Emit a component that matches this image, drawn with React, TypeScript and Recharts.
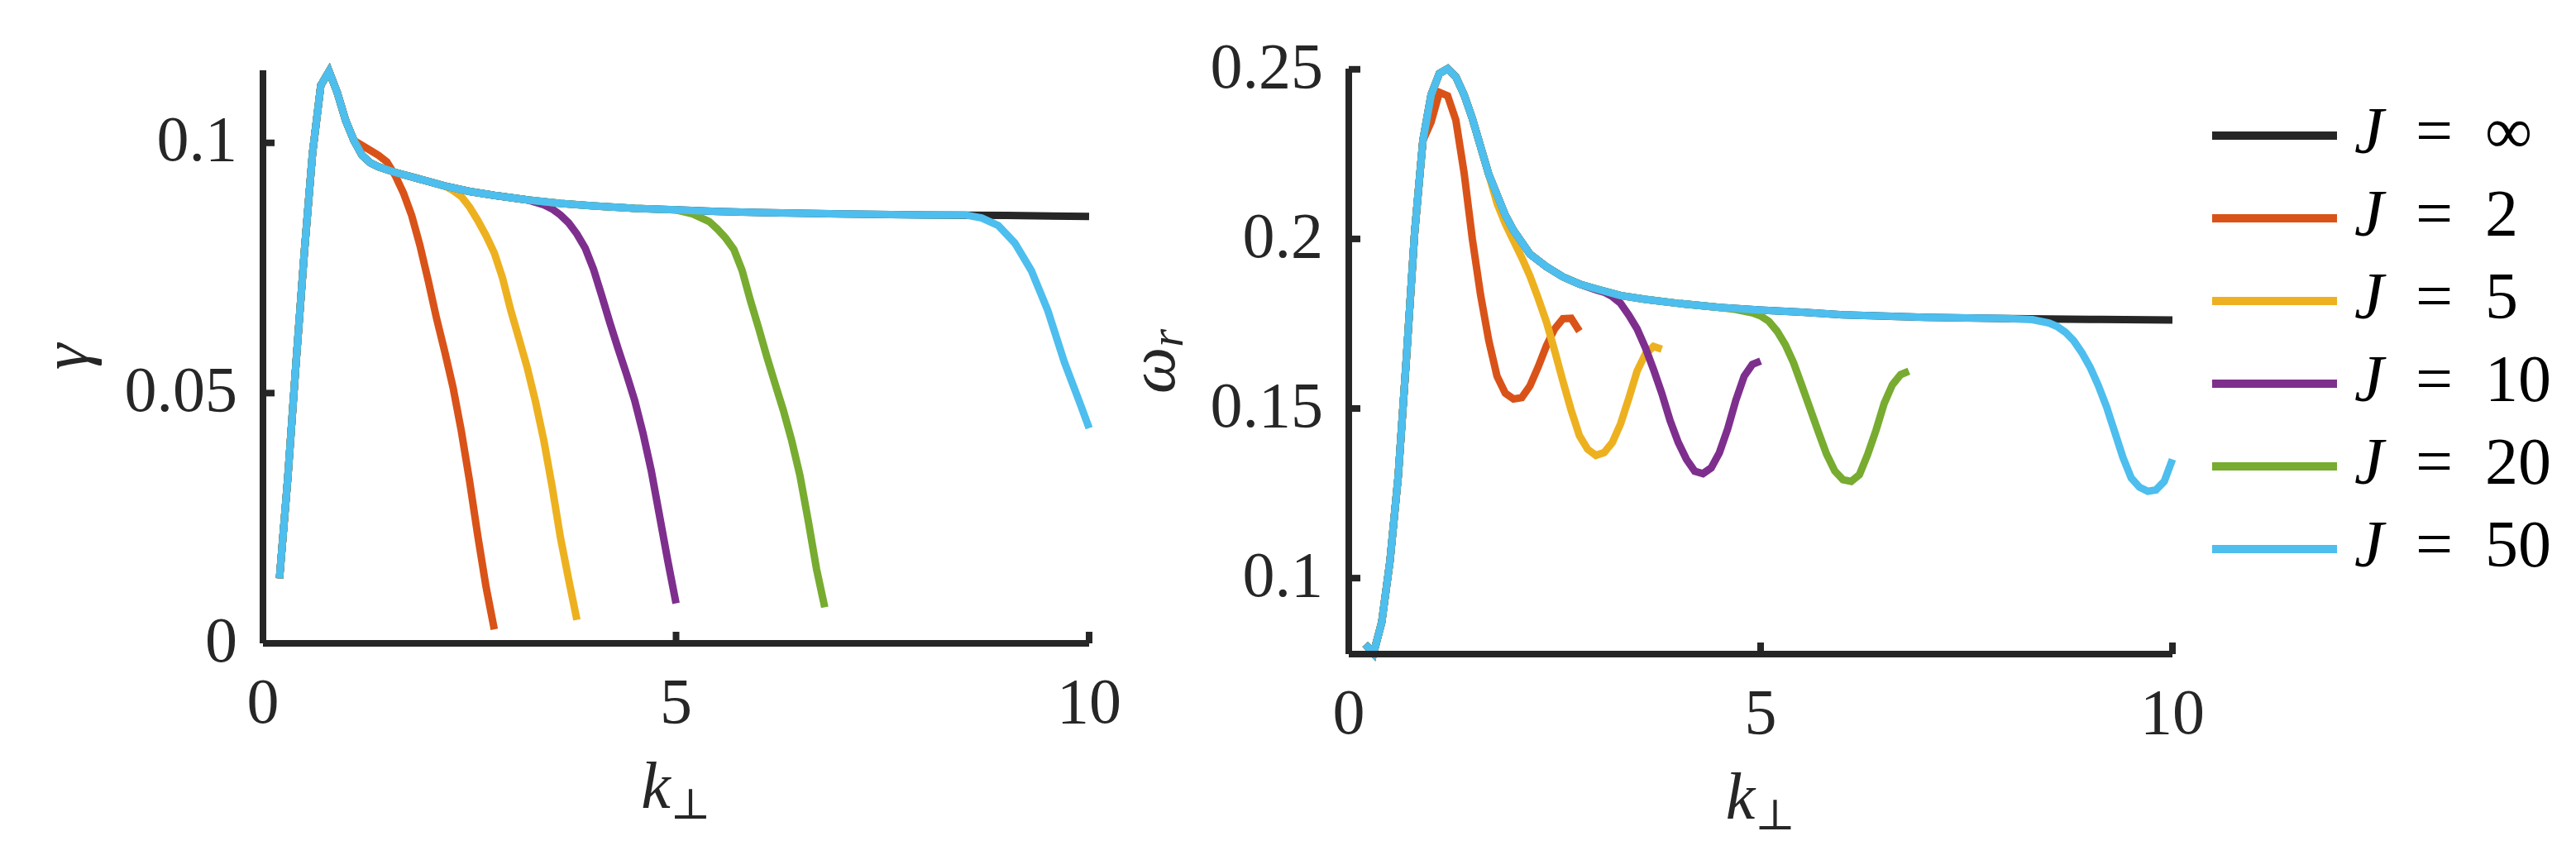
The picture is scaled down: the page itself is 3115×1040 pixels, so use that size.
import { LineChart, Line, XAxis, YAxis, Legend } from "recharts";

// ---- series labels / colours (MATLAB default order) ----
const jLabels = ["∞", "2", "5", "10", "20", "50"];
const jColors = ["#262626", "#D95319", "#EDB120", "#7E2F8E", "#77AC30", "#4DBEEE"];

// ---- growth rate gamma, J = infinity (shared by every J until it peels off) ----
const kGamma = [0.2, 0.3, 0.4, 0.5, 0.6, 0.7, 0.8, 0.9, 1.0, 1.1, 1.2, 1.3, 1.4, 1.6, 1.8, 2.0, 2.2, 2.5, 2.8, 3.2, 3.6, 4.0, 4.5, 5.0, 5.5, 6.0, 7.0, 8.0, 9.0, 10.0];
const gammaInf = [0.013, 0.033, 0.056, 0.078, 0.098, 0.1115, 0.1143, 0.110, 0.1045, 0.1005, 0.0975, 0.096, 0.0952, 0.0941, 0.0932, 0.0923, 0.0914, 0.0903, 0.0895, 0.0886, 0.0879, 0.0874, 0.0869, 0.0866, 0.0863, 0.0861, 0.0858, 0.0856, 0.0855, 0.0853];

// branch points (last shared k) for J = 2, 5, 10, 20, 50
const gammaCut = [1.1, 2.2, 3.2, 5.0, 8.0];

const kGamma2 = [1.2, 1.3, 1.4, 1.5, 1.6, 1.7, 1.8, 1.9, 2.0, 2.1, 2.2, 2.3, 2.4, 2.5, 2.6, 2.7, 2.8];
const gamma2 = [0.0995, 0.0985, 0.0975, 0.0962, 0.0935, 0.09, 0.0855, 0.0795, 0.0725, 0.065, 0.0583, 0.0512, 0.0425, 0.0325, 0.0215, 0.0113, 0.0028];

const kGamma5 = [2.3, 2.4, 2.5, 2.6, 2.7, 2.8, 2.9, 3.0, 3.1, 3.2, 3.3, 3.4, 3.5, 3.6, 3.7, 3.8];
const gamma5 = [0.0905, 0.0893, 0.0872, 0.0845, 0.0815, 0.078, 0.073, 0.0665, 0.0608, 0.055, 0.0482, 0.0405, 0.0313, 0.0212, 0.0128, 0.0047];

const kGamma10 = [3.4, 3.5, 3.6, 3.7, 3.8, 3.9, 4.0, 4.1, 4.2, 4.3, 4.4, 4.5, 4.6, 4.7, 4.8, 4.9, 5.0];
const gamma10 = [0.0876, 0.0868, 0.0856, 0.084, 0.0818, 0.079, 0.0748, 0.0695, 0.064, 0.0588, 0.0538, 0.0485, 0.042, 0.0345, 0.0255, 0.0165, 0.008];

const kGamma20 = [5.2, 5.4, 5.5, 5.6, 5.7, 5.8, 5.9, 6.0, 6.1, 6.2, 6.3, 6.4, 6.5, 6.6, 6.7, 6.8];
const gamma20 = [0.0858, 0.0843, 0.0828, 0.081, 0.0787, 0.0745, 0.0685, 0.063, 0.0572, 0.0518, 0.0465, 0.0405, 0.0335, 0.0245, 0.0149, 0.0072];

const kGamma50 = [8.5, 8.7, 8.9, 9.1, 9.3, 9.5, 9.7, 9.9, 10.0];
const gamma50 = [0.0856, 0.085, 0.0835, 0.08, 0.0745, 0.0665, 0.0562, 0.0475, 0.043];

// ---- real frequency omega_r, J = infinity ----
const kOmega = [0.2, 0.3, 0.4, 0.5, 0.6, 0.7, 0.8, 0.9, 1.0, 1.1, 1.2, 1.3, 1.4, 1.5, 1.6, 1.7, 1.8, 1.9, 2.0, 2.2, 2.4, 2.6, 2.8, 3.0, 3.3, 3.6, 4.0, 4.5, 5.0, 5.5, 6.0, 7.0, 8.0, 9.0, 10.0];
const omegaInf = [0.0805, 0.0778, 0.087, 0.105, 0.13, 0.165, 0.202, 0.229, 0.2425, 0.2488, 0.2502, 0.2478, 0.2425, 0.2355, 0.2272, 0.219, 0.213, 0.207, 0.2025, 0.1955, 0.1918, 0.1888, 0.1867, 0.1853, 0.1833, 0.1822, 0.181, 0.1798, 0.179, 0.1784, 0.1776, 0.1769, 0.1765, 0.1763, 0.1761];

const omegaCut = [0.9, 1.7, 2.8, 4.5, 8.0];

const kOmega2 = [1.0, 1.1, 1.2, 1.3, 1.4, 1.5, 1.6, 1.7, 1.8, 1.9, 2.0, 2.1, 2.2, 2.3, 2.4, 2.5, 2.6, 2.7, 2.8];
const omega2 = [0.2345, 0.2432, 0.2422, 0.235, 0.2195, 0.2, 0.1835, 0.17, 0.1595, 0.1545, 0.1528, 0.1532, 0.1567, 0.1623, 0.1685, 0.1735, 0.1765, 0.1766, 0.1728];

const kOmega5 = [1.8, 1.9, 2.0, 2.1, 2.2, 2.3, 2.4, 2.5, 2.6, 2.7, 2.8, 2.9, 3.0, 3.1, 3.2, 3.3, 3.4, 3.5, 3.6, 3.7, 3.8];
const omega5 = [0.2105, 0.2045, 0.1995, 0.1945, 0.189, 0.1825, 0.1755, 0.167, 0.158, 0.1495, 0.142, 0.138, 0.1362, 0.137, 0.14, 0.1455, 0.153, 0.161, 0.166, 0.1683, 0.1675];

const kOmega10 = [3.0, 3.1, 3.2, 3.3, 3.4, 3.5, 3.6, 3.7, 3.8, 3.9, 4.0, 4.1, 4.2, 4.3, 4.4, 4.5, 4.6, 4.7, 4.8, 4.9, 5.0];
const omega10 = [0.185, 0.1843, 0.183, 0.181, 0.1775, 0.1735, 0.168, 0.1615, 0.1545, 0.1465, 0.14, 0.135, 0.1315, 0.1308, 0.1325, 0.137, 0.144, 0.1525, 0.1595, 0.163, 0.164];

const kOmega20 = [4.7, 4.9, 5.0, 5.1, 5.2, 5.3, 5.4, 5.5, 5.6, 5.7, 5.8, 5.9, 6.0, 6.1, 6.2, 6.3, 6.4, 6.5, 6.6, 6.7, 6.8];
const omega20 = [0.1792, 0.1782, 0.1773, 0.1757, 0.1728, 0.1688, 0.1635, 0.1568, 0.15, 0.1432, 0.1366, 0.1316, 0.129, 0.1285, 0.1305, 0.1365, 0.1435, 0.1515, 0.157, 0.16, 0.161];

const kOmega50 = [8.3, 8.5, 8.6, 8.7, 8.8, 8.9, 9.0, 9.1, 9.2, 9.3, 9.4, 9.5, 9.6, 9.7, 9.8, 9.9, 10.0];
const omega50 = [0.1762, 0.1752, 0.1742, 0.1725, 0.17, 0.1665, 0.1622, 0.1568, 0.1505, 0.143, 0.1355, 0.1295, 0.1268, 0.1256, 0.126, 0.1285, 0.135];

const xTicks = [0, 5, 10];
const gammaTicks = [0, 0.05, 0.1];
const omegaTicks = [0.1, 0.15, 0.2, 0.25];

// ---- helpers ----
type Pt = { k: number; v: number };
const toPts = (ks: number[], vs: number[]): Pt[] => ks.map((k, i) => ({ k, v: vs[i] }));
const branch = (ks: number[], vs: number[], cut: number, tk: number[], tv: number[]) =>
  toPts(ks, vs).filter((p) => p.k <= cut).concat(toPts(tk, tv));

const gammaSeries: Pt[][] = [
  toPts(kGamma, gammaInf),
  branch(kGamma, gammaInf, gammaCut[0], kGamma2, gamma2),
  branch(kGamma, gammaInf, gammaCut[1], kGamma5, gamma5),
  branch(kGamma, gammaInf, gammaCut[2], kGamma10, gamma10),
  branch(kGamma, gammaInf, gammaCut[3], kGamma20, gamma20),
  branch(kGamma, gammaInf, gammaCut[4], kGamma50, gamma50),
];
const omegaSeries: Pt[][] = [
  toPts(kOmega, omegaInf),
  branch(kOmega, omegaInf, omegaCut[0], kOmega2, omega2),
  branch(kOmega, omegaInf, omegaCut[1], kOmega5, omega5),
  branch(kOmega, omegaInf, omegaCut[2], kOmega10, omega10),
  branch(kOmega, omegaInf, omegaCut[3], kOmega20, omega20),
  branch(kOmega, omegaInf, omegaCut[4], kOmega50, omega50),
];

const serif = '"Liberation Serif", "DejaVu Serif", serif';
const ink = "#262626";
const axisLine = { stroke: ink, strokeWidth: 8 };
const tickFont = { fill: ink, fontSize: 78, fontFamily: serif };

function KPerpLabel(props: any) {
  const vb = props.viewBox || { x: 0, y: 0, width: 0 };
  const cx = vb.x + vb.width / 2;
  return (
    <text x={cx} y={vb.y + 199} textAnchor="middle" fill={ink} fontFamily={serif} fontSize={80}>
      <tspan fontStyle="italic">k</tspan>
      <tspan fontFamily='"DejaVu Serif", "DejaVu Sans"' fontSize={52} dy={13}>⊥</tspan>
    </text>
  );
}

function GammaLabel(props: any) {
  const vb = props.viewBox || { y: 0, height: 0 };
  const x = 106;
  const y = vb.y + vb.height / 2;
  return (
    <text transform={`rotate(-90 ${x} ${y})`} x={x} y={y} textAnchor="middle" fill={ink} fontFamily={serif} fontSize={80} fontStyle="italic">
      γ
    </text>
  );
}

function OmegaLabel(props: any) {
  const vb = props.viewBox || { y: 0, height: 0 };
  const x = 80;
  const y = vb.y + vb.height / 2;
  return (
    <text transform={`rotate(-90 ${x} ${y})`} x={x} y={y} textAnchor="middle" fill={ink} fontFamily={serif} fontSize={80} fontStyle="italic">
      <tspan>ω</tspan>
      <tspan fontSize={56} dy={10}>r</tspan>
    </text>
  );
}

function JLegend() {
  return (
    <div style={{ fontFamily: serif, color: "#000" }}>
      {jLabels.map((j, i) => (
        <div key={j} style={{ display: "flex", alignItems: "center", height: 100 }}>
          <div style={{ width: 151, height: 10, background: jColors[i] }} />
          <div style={{ marginLeft: 21, fontSize: 80, lineHeight: "80px", position: "relative", top: -6, whiteSpace: "nowrap" }}>
            <span style={{ fontStyle: "italic", display: "inline-block", width: 74 }}>J</span>
            <span style={{ display: "inline-block", width: 84 }}>=</span>
            <span>{j}</span>
          </div>
        </div>
      ))}
    </div>
  );
}

export default function App() {
  return (
    <div style={{ position: "absolute", left: 0, top: 0, width: 3115, height: 1040, background: "#fff" }}>
      <div style={{ position: "absolute", left: 0, top: 0 }}>
        <LineChart width={1370} height={1040} margin={{ top: 85, right: 53, bottom: 0, left: 0 }}>
          <XAxis
            type="number"
            dataKey="k"
            domain={[0, 10]}
            ticks={xTicks}
            height={262}
            axisLine={axisLine}
            tickLine={axisLine}
            tickSize={-14}
            tickMargin={55}
            tick={tickFont}
            label={<KPerpLabel />}
          />
          <YAxis
            type="number"
            domain={[0, 0.1145]}
            ticks={gammaTicks}
            width={318}
            axisLine={axisLine}
            tickLine={axisLine}
            tickSize={-14}
            tickMargin={45}
            tick={{ ...tickFont, dy: -6 }}
            label={<GammaLabel />}
          />
          {gammaSeries.map((d, i) => (
            <Line
              key={jLabels[i]}
              data={d}
              dataKey="v"
              name={`J = ${jLabels[i]}`}
              type="linear"
              stroke={jColors[i]}
              strokeWidth={9}
              dot={false}
              activeDot={false}
              isAnimationActive={false}
            />
          ))}
        </LineChart>
      </div>
      <div style={{ position: "absolute", left: 1340, top: 0 }}>
        <LineChart width={1775} height={1040} margin={{ top: 83, right: 488, bottom: 0, left: 0 }}>
          <XAxis
            type="number"
            dataKey="k"
            domain={[0, 10]}
            ticks={xTicks}
            height={249}
            axisLine={axisLine}
            tickLine={axisLine}
            tickSize={-14}
            tickMargin={55}
            tick={tickFont}
            label={<KPerpLabel />}
          />
          <YAxis
            type="number"
            domain={[0.0776, 0.2502]}
            ticks={omegaTicks}
            width={291}
            axisLine={axisLine}
            tickLine={axisLine}
            tickSize={-14}
            tickMargin={45}
            tick={{ ...tickFont, dy: -6 }}
            label={<OmegaLabel />}
          />
          {omegaSeries.map((d, i) => (
            <Line
              key={jLabels[i]}
              data={d}
              dataKey="v"
              name={`J = ${jLabels[i]}`}
              type="linear"
              stroke={jColors[i]}
              strokeWidth={9}
              dot={false}
              activeDot={false}
              isAnimationActive={false}
            />
          ))}
          <Legend
            layout="vertical"
            align="center"
            verticalAlign="middle"
            wrapperStyle={{ left: 1335, top: 114, width: 440 }}
            content={<JLegend />}
          />
        </LineChart>
      </div>
    </div>
  );
}
